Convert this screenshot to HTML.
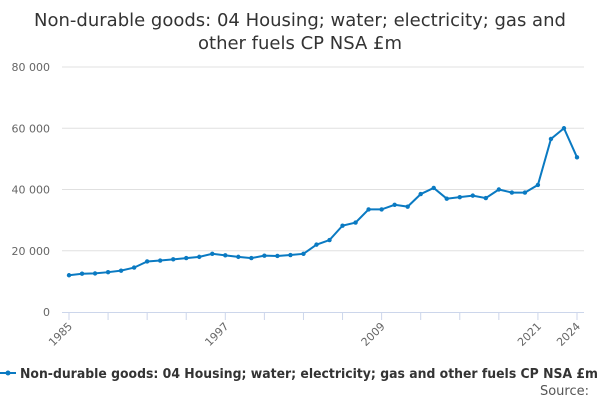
<!DOCTYPE html>
<html><head><meta charset="utf-8"><style>
body{margin:0;background:#fff;font-family:"Liberation Sans","DejaVu Sans",sans-serif;}
svg text{font-family:"DejaVu Sans","Liberation Sans",sans-serif;}
</style></head><body>
<svg id="chart" width="600" height="400">
<text x="300" y="26" text-anchor="middle" font-size="18" fill="#333">Non-durable goods: 04 Housing; water; electricity; gas and</text>
<text x="300" y="49" text-anchor="middle" font-size="18" fill="#333">other fuels CP NSA £m</text>
<g id="grid"></g><g id="xaxis"></g><g id="series"></g>
<g>
<line x1="0" y1="373" x2="16" y2="373" stroke="#0a7ac2" stroke-width="2"/>
<circle cx="8" cy="373" r="2.5" fill="#0a7ac2"/>
<text x="20" y="378" font-size="13" font-weight="bold" fill="#333" textLength="578" lengthAdjust="spacingAndGlyphs">Non-durable goods: 04 Housing; water; electricity; gas and other fuels CP NSA £m</text>
</g>
<text x="589" y="395" text-anchor="end" font-size="13" fill="#555">Source:</text>
</svg>
<script>
const years=[1985,1986,1987,1988,1989,1990,1991,1992,1993,1994,1995,1996,1997,1998,1999,2000,2001,2002,2003,2004,2005,2006,2007,2008,2009,2010,2011,2012,2013,2014,2015,2016,2017,2018,2019,2020,2021,2022,2023,2024];
const values=[12000,12500,12600,13000,13500,14500,16500,16800,17200,17600,18000,19000,18500,18000,17600,18400,18300,18600,19000,22000,23500,28200,29200,33500,33500,35000,34400,38500,40500,37000,37500,38000,37200,40000,39000,39000,41500,56500,60000,50500];
const yTicks=[0,20000,40000,60000,80000];
const yTickLabels=["0","20 000","40 000","60 000","80 000"];
const xLabels=[1985,1997,2009,2021,2024];
const NS="http://www.w3.org/2000/svg";
const x=v=>69+(v-1985)*(508/39);
const y=v=>312-v*(245/80000);
function mk(t,a,p){const e=document.createElementNS(NS,t);for(const k in a)e.setAttribute(k,a[k]);p.appendChild(e);return e;}
const grid=document.getElementById('grid');
yTicks.forEach((t,i)=>{
  if(t>0){const l=mk('line',{x1:62,x2:584,y1:y(t),y2:y(t),stroke:'#e0e0e0'},grid);
  
  }
  const tx=mk('text',{x:50,y:y(t)+4,'text-anchor':'end','font-size':11,fill:'#666'},grid);
  tx.textContent=yTickLabels[i];
  
  
});
const xa=document.getElementById('xaxis');
mk('line',{x1:62,x2:584,y1:312.5,y2:312.5,stroke:'#ccd6eb'},xa);
for(let yr=1985;yr<=2024;yr+=3){mk('line',{x1:x(yr),x2:x(yr),y1:312,y2:320,stroke:'#ccd6eb'},xa);}
mk('line',{x1:x(2024),x2:x(2024),y1:312,y2:320,stroke:'#ccd6eb'},xa);
xLabels.forEach(yr=>{
  const t=mk('text',{x:x(yr)+4,y:327,'text-anchor':'end','font-size':11,fill:'#666',transform:`rotate(-45 ${x(yr)+4} 327)`},xa);
  t.textContent=yr;
  
  
});
const s=document.getElementById('series');
const p=mk('polyline',{points:years.map((yr,i)=>x(yr)+','+y(values[i])).join(' '),fill:'none',stroke:'#0a7ac2','stroke-width':2},s);


years.forEach((yr,i)=>{
  const c=mk('circle',{cx:x(yr),cy:y(values[i]),r:2.2,fill:'#0a7ac2'},s);
  
  
});
</script>
</body></html>
